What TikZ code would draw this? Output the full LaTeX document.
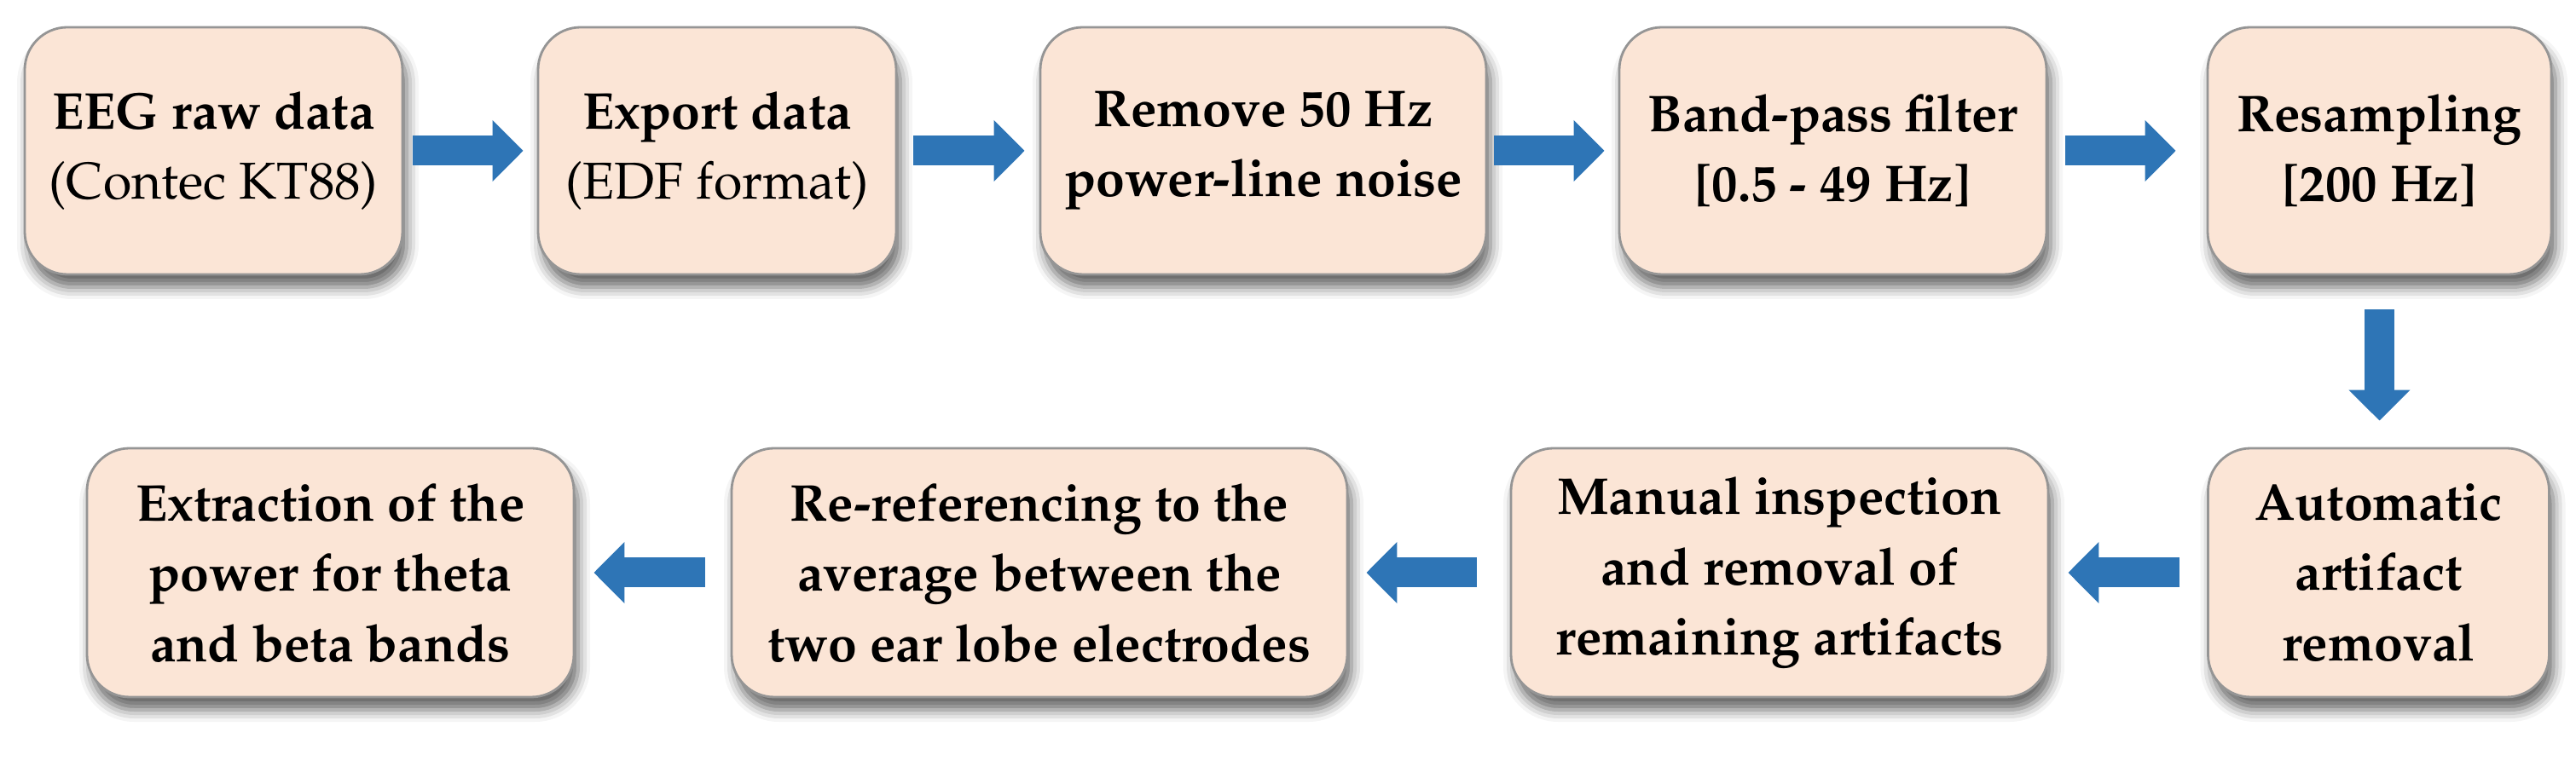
\documentclass[tikz,border=0pt]{standalone}
\usepackage[T1]{fontenc}
\usepackage{mathpazo}
\usetikzlibrary{arrows.meta,shadows.blur}
\definecolor{boxfill}{HTML}{FBE5D6}
\definecolor{boxline}{HTML}{959595}
\definecolor{arrowblue}{HTML}{2E75B6}
\tikzset{
  stepbox/.style={draw=boxline, line width=0.8pt, fill=boxfill, rounded corners=0.5cm,
    inner sep=0pt, align=center, minimum height=2.9cm,
    font=\fontsize{17.3}{23.5}\selectfont\bfseries,
    blur shadow={shadow xshift=0.05cm, shadow yshift=-0.15cm, shadow blur radius=0.14cm, shadow opacity=60}},
  barrow/.style={draw=arrowblue, line width=0.35cm, -{Triangle[length=0.36cm,width=0.70cm]}},
}
\begin{document}
\begin{tikzpicture}
\useasboundingbox (0,0) rectangle (30.21,-8.93);
% top row
\node[stepbox, minimum width=4.43cm] (b1) at (2.505,-1.77) {EEG raw data\\{\mdseries (Contec KT88)}};
\node[stepbox, minimum width=4.20cm] (b2) at (8.41,-1.77) {Export data\\{\mdseries (EDF format)}};
\node[stepbox, minimum width=5.23cm] (b3) at (14.815,-1.77) {Remove 50 Hz\\power-line noise};
\node[stepbox, minimum width=5.01cm] (b4) at (21.495,-1.77) {Band-pass filter\\{[0.5 - 49 Hz]}};
\node[stepbox, minimum width=4.03cm] (b5) at (27.905,-1.77) {Resampling\\{[200 Hz]}};
% bottom row
\node[stepbox, minimum width=4.00cm, minimum height=2.92cm] (b6) at (27.895,-6.72) {Automatic\\artifact\\removal};
\node[stepbox, minimum width=6.30cm, minimum height=2.92cm] (b7) at (20.87,-6.72) {Manual inspection\\and removal of\\remaining artifacts};
\node[stepbox, minimum width=7.22cm, minimum height=2.92cm] (b8) at (12.19,-6.72) {Re-referencing to the\\average between the\\two ear lobe electrodes};
\node[stepbox, minimum width=5.71cm, minimum height=2.92cm] (b9) at (3.875,-6.72) {Extraction of the\\power for theta\\and beta bands};
% arrows
\draw[barrow, shorten <=0.11cm, shorten >=0.16cm] (b1.east) -- (b2.west);
\draw[barrow, shorten <=0.19cm, shorten >=0.17cm] (b2.east) -- (b3.west);
\draw[barrow, shorten <=0.08cm, shorten >=0.16cm] (b3.east) -- (b4.west);
\draw[barrow, shorten <=0.21cm, shorten >=0.36cm] (b4.east) -- (b5.west);
\draw[barrow, shorten <=0.40cm, shorten >=0.31cm] (b5.south) -- (b5.south |- b6.north);
\draw[barrow, shorten <=0.32cm, shorten >=0.22cm] (b6.west) -- (b7.east);
\draw[barrow, shorten <=0.39cm, shorten >=0.21cm] (b7.west) -- (b8.east);
\draw[barrow, shorten <=0.30cm, shorten >=0.22cm] (b8.west) -- (b9.east);
\end{tikzpicture}
\end{document}
